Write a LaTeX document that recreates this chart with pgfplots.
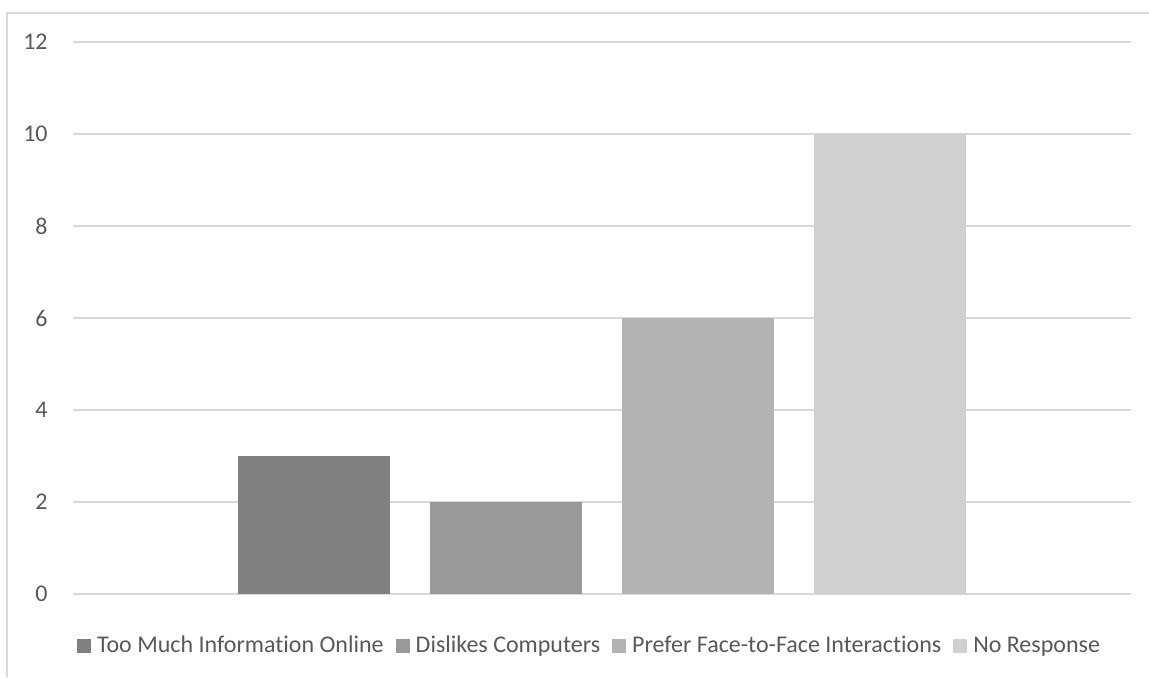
\documentclass[border=0pt]{standalone}
\usepackage{fontspec}
\setmainfont{Carlito}[Ligatures={NoCommon}]
\usepackage{pgfplots}
\pgfplotsset{compat=1.18}

\definecolor{barA}{HTML}{808080}
\definecolor{barB}{HTML}{999999}
\definecolor{barC}{HTML}{B3B3B3}
\definecolor{barD}{HTML}{D0D0D0}
\definecolor{gridgray}{HTML}{D9D9D9}
\definecolor{textgray}{HTML}{595959}

\begin{document}
\begin{tikzpicture}
  % page size and chart frame (top and left edges)
  \useasboundingbox (0,0) rectangle (574.5pt,338.5pt);
  \draw[gridgray, line width=1pt] (3.65pt,0) -- (3.65pt,332.15pt) -- (574.5pt,332.15pt);

  \begin{axis}[
    at={(36.5pt,41.5pt)}, anchor=south west,
    scale only axis, width=529pt, height=276pt,
    xmin=-0.5, xmax=0.5, ymin=0, ymax=12,
    ytick={0,2,...,12}, xtick=\empty,
    axis line style={draw=none},
    major tick length=0pt,
    ymajorgrids, grid style={gridgray, line width=1pt},
    /pgf/number format/assume math mode=true,
    yticklabel style={font=\fontsize{12}{14}\selectfont, text=textgray,
                      anchor=east, inner sep=0pt, xshift=-12.5pt},
    ybar=20pt, bar width=76pt,
    legend columns=-1,
    legend style={at={(0.0038,-0.0942)}, anchor=west, draw=none,
                  inner sep=0pt, outer sep=0pt,
                  font=\fontsize{12}{14}\selectfont, text=textgray,
                  nodes={inner sep=0pt},
                  /tikz/every odd column/.append style={column sep=3pt},
                  /tikz/every even column/.append style={column sep=6pt}},
    legend image code/.code={\fill[#1] (0pt,-3.5pt) rectangle (7pt,3.5pt);},
  ]
    \addplot[fill=barA, draw=none] coordinates {(0,3)};
    \addplot[fill=barB, draw=none] coordinates {(0,2)};
    \addplot[fill=barC, draw=none] coordinates {(0,6)};
    \addplot[fill=barD, draw=none] coordinates {(0,10)};
    \legend{Too Much Information Online, Dislikes Computers,
            Prefer Face-to-Face Interactions, No Response}
  \end{axis}
\end{tikzpicture}
\end{document}
